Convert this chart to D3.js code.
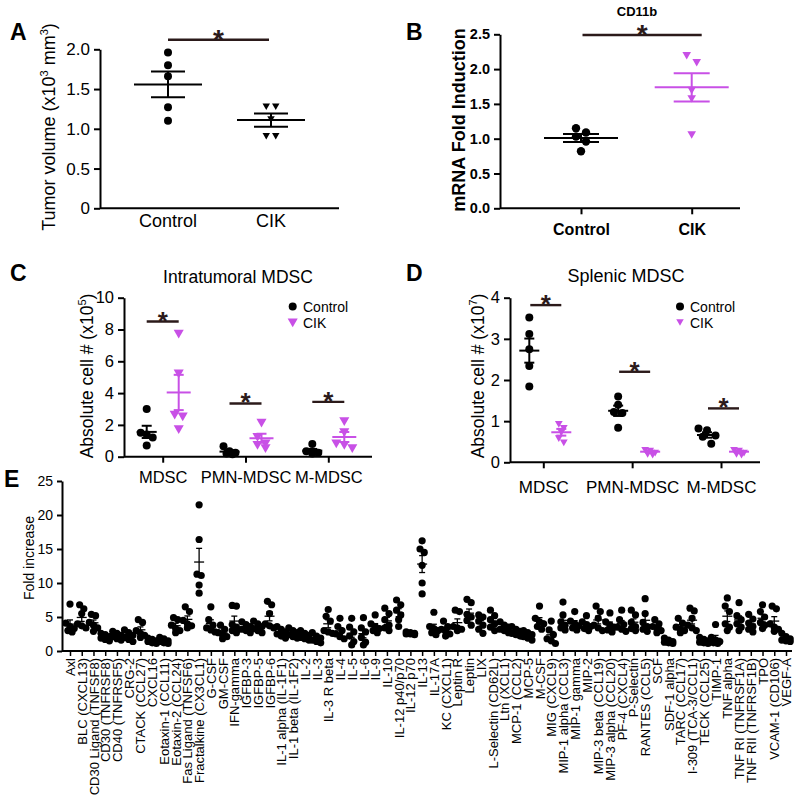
<!DOCTYPE html>
<html><head><meta charset="utf-8">
<script src="https://cdn.jsdelivr.net/npm/d3@7"></script>
<style>body{margin:0;background:#fff} svg{display:block}</style>
</head><body><svg id="c" width="800" height="801"></svg>
<script>
const FONT = '"Liberation Sans", Arial, Helvetica, sans-serif';
const MAG = "#c850e6";
const DARK = "#2b1a1a";

// ---------- data ----------
const groups = ["Control", "CIK"];
const tumorControl = [1.96, 1.80, 1.66, 1.27, 1.10];
const tumorCIK = [1.29, 1.29, 1.13, 0.92, 0.92];
const ticksA = [0, 0.5, 1.0, 1.5, 2.0];
const sigA = 2.12;

const cd11bControl = [1.09, 1.15, 1.03, 0.96, 0.82];
const cd11bCIK = [2.21, 2.11, 1.71, 1.59, 1.07];
const ticksB = [0, 0.5, 1.0, 1.5, 2.0, 2.5];
const sigB = 2.49;

const mdscCats = ["MDSC", "PMN-MDSC", "M-MDSC"];
const intraControl = [[3.0, 1.5, 1.4, 1.2, 0.7], [0.65, 0.35, 0.25, 0.2, 0.15], [0.8, 0.35, 0.3, 0.25, 0.2]];
const intraCIK = [[7.8, 5.3, 2.7, 2.6, 1.8], [2.2, 1.3, 0.9, 0.8, 0.6], [2.3, 1.6, 0.9, 0.8, 0.6]];
const ticksC = [0, 2, 4, 6, 8, 10];
const sigC = [8.5, 3.35, 3.45];

const splenControl = [[3.52, 3.12, 2.75, 2.34, 1.84], [1.6, 1.4, 1.22, 1.2, 0.84], [0.82, 0.78, 0.65, 0.62, 0.45]];
const splenCIK = [[0.95, 0.85, 0.75, 0.6, 0.5], [0.32, 0.3, 0.25, 0.22, 0.2], [0.32, 0.3, 0.25, 0.22, 0.2]];
const ticksD = [0, 1, 2, 3, 4];
const sigD = [3.82, 2.2, 1.31];

const cytokines = ["Axl","BLC (CXCL13)","CD30 Ligand (TNFSF8)","CD30 (TNFRSF8)","CD40 (TNFRSF5)","CRG-2","CTACK (CCL27)","CXCL16","Eotaxin-1 (CCL11)","Eotaxin-2 (CCL24)","Fas Ligand (TNFSF6)","Fractalkine (CX3CL1)","G-CSF","GM-CSF","IFN-gamma","IGFBP-3","IGFBP-5","IGFBP-6","IL-1 alpha (IL-1F1)","IL-1 beta (IL-1F2)","IL-2","IL-3","IL-3 R beta","IL-4","IL-5","IL-6","IL-9","IL-10","IL-12 p40/p70","IL-12 p70","IL-13","IL-17A","KC (CXCL1)","Leptin R","Leptin","LIX","L-Selectin (CD62L)","Ltn (XCL1)","MCP-1 (CCL2)","MCP-5","M-CSF","MIG (CXCL9)","MIP-1 alpha (CCL3)","MIP-1 gamma","MIP-2","MIP-3 beta (CCL19)","MIP-3 alpha (CCL20)","PF-4 (CXCL4)","P-Selectin","RANTES (CCL5)","SCF","SDF-1 alpha","TARC (CCL17)","I-309 (TCA-3/CCL1)","TECK (CCL25)","TIMP-1","TNF alpha","TNF RI (TNFRSF1A)","TNF RII (TNFRSF1B)","TPO","VCAM-1 (CD106)","VEGF-A"];
const foldValues = [
 [6.9,4.1,3.6,3.3,3.0,2.8],[6.8,6.2,5.5,4.0,3.7,3.4],[5.4,5.2,4.2,3.8,3.4,2.9],[2.6,2.4,2.1,1.9,1.7,1.5],
 [2.9,2.6,2.3,2.1,1.8,1.6],[3.1,2.7,2.3,2.0,1.7,1.4],[4.6,4.2,3.0,2.6,2.3,2.0],[1.9,1.7,1.5,1.4,1.2,1.1],
 [2.0,1.8,1.5,1.4,1.2,1.1],[4.9,4.6,3.8,3.3,3.0,2.7],[6.5,5.8,4.5,4.0,3.7,3.4],[21.5,16.4,11.3,11.1,9.7,8.5],
 [6.5,4.6,3.8,3.4,3.1,2.8],[3.8,3.2,2.7,2.4,2.1,1.8],[6.7,6.6,3.9,3.5,3.0,2.7],[4.3,3.9,3.6,3.2,3.0,2.7],
 [4.4,4.0,3.6,3.3,3.0,2.7],[7.3,6.8,5.5,4.0,3.7,3.4],[3.6,3.2,2.8,2.5,2.2,1.9],[3.4,3.0,2.7,2.4,2.1,1.9],
 [3.0,2.6,2.3,2.0,1.8,1.6],[2.7,2.2,1.9,1.6,1.4,1.2],[6.1,5.1,4.4,3.0,2.8,2.6],[4.8,3.6,3.0,2.5,2.1,1.8],
 [4.8,3.5,2.8,2.2,1.4,0.9],[4.9,3.4,2.8,2.0,1.3,0.9],[5.3,4.0,3.6,3.3,3.0,2.7],[6.3,5.5,4.6,3.8,3.4,3.0],
 [7.5,6.8,6.0,5.3,4.6,3.6],[2.8,2.7,2.6,2.5,2.5,2.4],[16.2,15.0,14.5,12.6,10.0,8.4],[5.7,3.6,3.3,3.0,2.7,2.4],
 [4.4,3.6,3.2,2.9,2.5,2.2],[6.0,5.8,3.6,3.4,3.2,3.0],[7.6,7.1,5.4,5.0,4.5,3.8],[5.3,5.0,4.4,3.8,3.2,2.6],
 [6.0,5.2,4.6,4.0,3.5,3.0],[4.3,3.8,3.5,3.2,3.0,2.7],[3.6,3.2,2.9,2.6,2.4,2.2],[3.0,2.7,2.4,2.1,1.9,1.6],
 [6.6,4.8,4.3,4.0,3.6,3.2],[4.4,3.1,2.4,1.8,1.5,1.1],[7.2,5.3,4.3,3.8,3.4,3.1],[5.8,4.4,4.0,3.7,3.4,3.1],
 [5.2,4.3,3.9,3.6,3.3,3.0],[6.6,5.8,4.8,3.8,3.4,3.0],[5.6,4.3,3.8,3.5,3.1,2.8],[6.0,4.6,3.9,3.5,3.2,2.9],
 [6.0,5.3,4.2,3.6,3.3,3.0],[7.7,5.5,4.2,3.6,3.2,2.9],[4.6,4.0,3.6,3.3,3.0,2.7],[1.9,1.6,1.4,1.3,1.2,1.1],
 [4.8,4.1,3.5,3.2,3.0,2.7],[6.3,5.9,4.8,3.8,3.4,3.0],[2.0,1.7,1.5,1.3,1.2,1.1],[3.9,2.0,1.6,1.4,1.2,1.1],
 [7.8,6.6,5.8,4.0,3.5,3.0],[7.1,5.2,4.6,4.0,3.5,3.0],[5.4,4.7,4.1,3.6,3.2,2.8],[6.8,5.8,5.0,4.2,3.8,3.3],
 [6.6,6.2,4.0,3.5,3.2,2.9],[2.6,2.1,1.8,1.6,1.5,1.4]
];
const ticksE = [0, 5, 10, 15, 20, 25];

// ---------- helpers ----------
const svg = d3.select("#c").attr("font-family", FONT);
function meanSem(a) {
  const m = d3.mean(a), s = d3.deviation(a) / Math.sqrt(a.length);
  return { m, s };
}
function swarm(vals, y, thresh, gap, maxRow) {
  const idx = vals.map((v, i) => i).sort((a, b) => vals[b] - vals[a]);
  const off = new Array(vals.length).fill(0);
  let row = [], rowY = null;
  const flush = () => row.forEach((k, j) => off[k] = (j - (row.length - 1) / 2) * gap);
  idx.forEach(k => {
    const yy = y(vals[k]);
    if (rowY !== null && Math.abs(yy - rowY) < thresh && row.length < maxRow) row.push(k);
    else { flush(); row = [k]; rowY = yy; }
  });
  flush();
  return off;
}
function styleAxis(g, fs, bold) {
  g.attr("font-family", FONT).attr("font-size", fs);
  g.select(".domain").attr("stroke", "#000").attr("stroke-width", 2);
  g.selectAll(".tick line").attr("stroke", "#000").attr("stroke-width", 2);
  g.selectAll(".tick text").attr("fill", "#000").attr("font-weight", bold ? "bold" : "normal");
}
function yAxis(scale, x, ticks, fmt, fs, bold, size) {
  const g = svg.append("g").attr("transform", `translate(${x},0)`)
    .call(d3.axisLeft(scale).tickValues(ticks).tickFormat(fmt).tickSize(size || 6).tickSizeOuter(0).tickPadding(4));
  styleAxis(g, fs, bold);
  return g;
}
function xLine(x0, x1, y) {
  svg.append("line").attr("x1", x0).attr("x2", x1).attr("y1", y).attr("y2", y)
    .attr("stroke", "#000").attr("stroke-width", 2);
}
function dots(vals, cx, y, r, color, opts) {
  const off = swarm(vals, y, opts.thresh, opts.gap, opts.maxRow || 99);
  svg.append("g").selectAll("circle").data(vals).join("circle")
    .attr("cx", (d, i) => cx + off[i]).attr("cy", d => y(d)).attr("r", r).attr("fill", color);
}
function tris(vals, cx, y, size, color, opts) {
  const off = swarm(vals, y, opts.thresh, opts.gap, opts.maxRow || 99);
  const sym = d3.symbol().type(d3.symbolTriangle).size(size);
  svg.append("g").selectAll("path").data(vals).join("path")
    .attr("d", sym).attr("fill", color)
    .attr("transform", (d, i) => `translate(${cx + off[i]},${y(d)}) rotate(180)`);
}
function meanBar(vals, cx, y, hw, cw, color, sw) {
  const { m, s } = meanSem(vals);
  const g = svg.append("g").attr("stroke", color).attr("stroke-width", sw).attr("fill", "none");
  g.append("line").attr("x1", cx - hw).attr("x2", cx + hw).attr("y1", y(m)).attr("y2", y(m));
  g.append("line").attr("x1", cx).attr("x2", cx).attr("y1", y(m - s)).attr("y2", y(m + s));
  g.append("line").attr("x1", cx - cw).attr("x2", cx + cw).attr("y1", y(m + s)).attr("y2", y(m + s));
  g.append("line").attr("x1", cx - cw).attr("x2", cx + cw).attr("y1", y(m - s)).attr("y2", y(m - s));
}
function sig(x0, x1, yv, fs, sw) {
  svg.append("line").attr("x1", x0).attr("x2", x1).attr("y1", yv).attr("y2", yv)
    .attr("stroke", DARK).attr("stroke-width", sw || 2.2);
  svg.append("text").attr("x", (x0 + x1) / 2).attr("y", yv - 7 + 0.575 * fs)
    .attr("text-anchor", "middle").attr("font-size", fs).attr("font-weight", "bold").attr("fill", DARK).text("*");
}
function text(x, y, s, fs, opts = {}) {
  return svg.append("text").attr("x", x).attr("y", y).attr("font-size", fs)
    .attr("text-anchor", opts.anchor || "middle").attr("font-weight", opts.bold ? "bold" : "normal")
    .attr("fill", "#000").text(s);
}
function yLabel(cx, cy, parts, fs, bold) {
  const t = svg.append("text").attr("transform", `translate(${cx},${cy}) rotate(-90)`)
    .attr("text-anchor", "middle").attr("dy", "0.35em").attr("font-size", fs)
    .attr("font-weight", bold ? "bold" : "normal").attr("fill", "#000");
  parts.forEach(p => {
    if (typeof p === "string") t.append("tspan").text(p);
    else t.append("tspan").attr("dy", p.dy).attr("font-size", p.fs || fs).text(p.t);
  });
}
function letter(x, y, s) { text(x, y, s, 23, { anchor: "start", bold: true }); }

// ---------- Panel A ----------
{
  const y = d3.scaleLinear().domain([0, 2]).range([208.3, 49.3]);
  const x = d3.scalePoint().domain(groups).range([168, 271]);
  yAxis(y, 100, ticksA, d => d === 0 ? "0" : d.toFixed(1), 17, false);
  xLine(100, 339, 208.3);
  groups.forEach(g => text(x(g), 227, g, 18));
  yLabel(49, 127, ["Tumor volume (x10", { t: "3", dy: -7, fs: 11 }, { t: " mm", dy: 7 }, { t: "3", dy: -7, fs: 11 }, { t: ")", dy: 7 }], 18);
  dots(tumorControl, x("Control"), y, 4, "#000", { thresh: 7, gap: 9 });
  tris(tumorCIK, x("CIK"), y, 24, "#000", { thresh: 7, gap: 9.5 });
  meanBar(tumorControl, x("Control"), y, 34, 17, "#000", 2);
  meanBar(tumorCIK, x("CIK"), y, 34, 17, "#000", 2);
  sig(x("Control"), x("CIK") - 2, y(sigA), 28, 2.4);
  letter(10, 40, "A");
}

// ---------- Panel B ----------
{
  const y = d3.scaleLinear().domain([0, 2.5]).range([208.3, 34.3]);
  const x = d3.scalePoint().domain(groups).range([581, 691.7]);
  yAxis(y, 500, ticksB, d => d.toFixed(1), 14.5, true);
  xLine(500, 740, 208.3);
  const gx = svg.append("g").attr("transform", "translate(0,208.3)")
    .call(d3.axisBottom(x).tickSize(6).tickPadding(6));
  gx.select(".domain").remove();
  styleAxis(gx, 16, true);
  gx.selectAll(".tick text").attr("dy", "0.9em");
  svg.append("text").attr("x", 637).attr("y", 16).attr("text-anchor", "middle")
    .attr("font-size", 13).attr("font-weight", "bold").text("CD11b");
  yLabel(458.5, 120, ["mRNA Fold Induction"], 18, true);
  dots(cd11bControl, x("Control"), y, 4.2, "#000", { thresh: 7, gap: 10 });
  tris(cd11bCIK, x("CIK"), y, 32, MAG, { thresh: 7, gap: 10 });
  meanBar(cd11bControl, x("Control"), y, 37, 18, "#000", 2);
  meanBar(cd11bCIK, x("CIK"), y, 37, 18, MAG, 2);
  sig(x("Control") + 1.5, x("CIK") + 10, y(sigB), 28, 2.4);
  letter(406, 40, "B");
}

// ---------- Panel C ----------
{
  const y = d3.scaleLinear().domain([0, 10]).range([456.7, 297.7]);
  const x = d3.scalePoint().domain(mdscCats).range([162.7, 328.3]);
  const sub = d3.scalePoint().domain(groups).range([-16, 16]);
  yAxis(y, 124, ticksC, d3.format("d"), 16.5, false);
  xLine(124, 372, 456.7);
  const gx = svg.append("g").attr("transform", "translate(0,456.7)")
    .call(d3.axisBottom(x).tickSize(6).tickPadding(4));
  gx.select(".domain").remove();
  styleAxis(gx, 16.5, false);
  gx.selectAll(".tick text").attr("dy", "1.0em");
  text(238, 283, "Intratumoral MDSC", 17.5);
  yLabel(87, 376, ["Absolute cell # (x10", { t: "5", dy: -7, fs: 11 }, { t: ")", dy: 7 }], 17.5);
  mdscCats.forEach((c, i) => {
    dots(intraControl[i], x(c) + sub("Control"), y, 4, "#000", { thresh: 7, gap: 6, maxRow: 3 });
    tris(intraCIK[i], x(c) + sub("CIK"), y, 44, MAG, { thresh: 7, gap: 8, maxRow: 3 });
    meanBar(intraControl[i], x(c) + sub("Control"), y, 10, 5, "#000", 2);
    meanBar(intraCIK[i], x(c) + sub("CIK"), y, 12, 5, MAG, 2);
    sig(x(c) + sub("Control"), x(c) + sub("CIK"), y(sigC[i]), 26, 2.4);
  });
  svg.append("circle").attr("cx", 292.7).attr("cy", 306.5).attr("r", 4).attr("fill", "#000");
  svg.append("path").attr("d", d3.symbol().type(d3.symbolTriangle).size(44)())
    .attr("transform", "translate(292.7,321.5) rotate(180)").attr("fill", MAG);
  text(303, 311.5, "Control", 14, { anchor: "start" });
  text(303, 327.5, "CIK", 14, { anchor: "start" });
  letter(10, 281, "C");
}

// ---------- Panel D ----------
{
  const y = d3.scaleLinear().domain([0, 4]).range([462.3, 297.7]);
  const x = d3.scalePoint().domain(mdscCats).range([543.3, 721]);
  const sub = d3.scalePoint().domain(groups).range([-14, 18]);
  yAxis(y, 510, ticksD, d3.format("d"), 16.5, false);
  xLine(510, 760, 462.3);
  const gx = svg.append("g").attr("transform", "translate(0,462.3)")
    .call(d3.axisBottom(x).tickSize(6).tickPadding(6));
  gx.select(".domain").remove();
  styleAxis(gx, 17, false);
  gx.selectAll(".tick text").attr("dy", "1.1em");
  text(626, 281.5, "Splenic MDSC", 18);
  yLabel(478, 376, ["Absolute cell # (x10", { t: "7", dy: -7, fs: 11 }, { t: ")", dy: 7 }], 17.5);
  mdscCats.forEach((c, i) => {
    dots(splenControl[i], x(c) + sub("Control"), y, 4, "#000", { thresh: 7, gap: 8.5, maxRow: 3 });
    tris(splenCIK[i], x(c) + sub("CIK"), y, 26, MAG, { thresh: 5, gap: 5, maxRow: 3 });
    meanBar(splenControl[i], x(c) + sub("Control"), y, 10, 5, "#000", 2);
    meanBar(splenCIK[i], x(c) + sub("CIK"), y, 10, 5, MAG, 2);
    sig(x(c) + sub("Control") + 1, x(c) + sub("CIK"), y(sigD[i]), 26, 2.4);
  });
  svg.append("circle").attr("cx", 680).attr("cy", 306.5).attr("r", 4).attr("fill", "#000");
  svg.append("path").attr("d", d3.symbol().type(d3.symbolTriangle).size(24)())
    .attr("transform", "translate(680,321.5) rotate(180)").attr("fill", MAG);
  text(690, 311.5, "Control", 14, { anchor: "start" });
  text(690, 327.5, "CIK", 14, { anchor: "start" });
  letter(406, 281, "D");
}

// ---------- Panel E ----------
{
  const y = d3.scaleLinear().domain([0, 25]).range([651, 481]);
  const x = d3.scalePoint().domain(cytokines).range([70, 786]);
  yAxis(y, 62, ticksE, d3.format("d"), 14, false, 5);
  xLine(62, 792, 651);
  const gx = svg.append("g").attr("transform", "translate(0,651)")
    .call(d3.axisBottom(x).tickSize(5).tickPadding(2));
  gx.select(".domain").remove();
  styleAxis(gx, 13, false);
  gx.selectAll(".tick line").attr("stroke-width", 1.5);
  gx.selectAll(".tick text").attr("transform", "rotate(-90)")
    .attr("x", -7).attr("y", 0).attr("dy", "0.35em").style("text-anchor", "end");
  yLabel(29, 558, ["Fold increase"], 14);
  cytokines.forEach((c, i) => {
    dots(foldValues[i], x(c), y, 3.6, "#000", { thresh: 5.5, gap: 4.2, maxRow: 3 });
    meanBar(foldValues[i], x(c), y, 5, 3, "#000", 1.3);
  });
  letter(4, 487, "E");
}
</script></body></html>
